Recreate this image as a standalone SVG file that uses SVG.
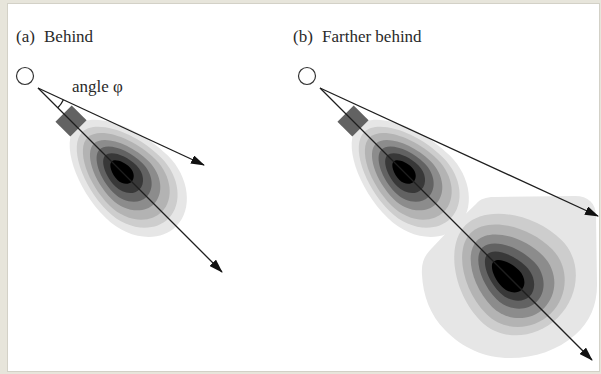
<svg xmlns="http://www.w3.org/2000/svg" xmlns:xlink="http://www.w3.org/1999/xlink" width="601" height="374" viewBox="0 0 601 374">
<style>
.lbl{font-family:"Liberation Serif","DejaVu Serif",serif;font-size:17px;fill:#2a2a2a}
.ln{stroke:#1e1e1e;stroke-width:1.3;fill:none}
.src{fill:#fff;stroke:#333;stroke-width:1.2}
.sq{fill:#626262}
.c0{fill:#e6e6e6}.c1{fill:#cdcdcd}.c2{fill:#b3b3b3}.c3{fill:#8c8c8c}.c4{fill:#626262}.c5{fill:#383838}.c6{fill:#000}
</style>
<defs>
<path id="tear" d="M-68,0 C-68,-22 -25,-44 18,-44 C48.8,-44 74,-24 74,0 C74,24 48.8,44 18,44 C-25,44 -68,22 -68,0 Z"/>
<marker id="ah" viewBox="0 0 14 9" refX="13" refY="4.5" markerWidth="14" markerHeight="9" markerUnits="userSpaceOnUse" orient="auto"><path d="M0,0 L14,4.5 L0,9 Z" fill="#111"/></marker>
</defs>
<rect width="601" height="374" fill="#e7e5db"/>
<rect x="7.5" y="3.5" width="592" height="368" fill="#fff" stroke="#d3d1c7" stroke-width="1"/>

<g id="blob-a">
<use xlink:href="#tear" class="c0" transform="translate(124,174) rotate(45) translate(-5,0) scale(1) translate(5,0)"/>
<use xlink:href="#tear" class="c1" transform="translate(124,174) rotate(45) translate(-5,0) scale(0.86) translate(5,0)"/>
<use xlink:href="#tear" class="c2" transform="translate(124,174) rotate(45) translate(-5,0) scale(0.74) translate(5,0)"/>
<use xlink:href="#tear" class="c3" transform="translate(124,174) rotate(45) translate(-5,0) scale(0.6) translate(5,0)"/>
<use xlink:href="#tear" class="c4" transform="translate(124,174) rotate(45) translate(-5,0) scale(0.47) translate(5,0)"/>
<use xlink:href="#tear" class="c5" transform="translate(124,174) rotate(45) translate(-5,0) scale(0.34) translate(5,0)"/>
<use xlink:href="#tear" class="c6" transform="translate(124,174) rotate(45) translate(-5,0) scale(0.2) translate(5,0)"/>
</g>

<g id="blob-b2">
<path class="c0" d="M450,229 L476,204 C480,199 486,197 494,197 L575,196 C588,196 596,203 596,216 L597,285 C597,305 590,322 575,335 C558,350 535,358 510,358 C485,358 462,348 445,330 C430,315 423,295 422,275 C421,262 425,255 432,248 Z"/>
<use xlink:href="#tear" class="c1" transform="translate(507,275) rotate(45) translate(-2,-6) scale(0.92,1.3)"/>
<use xlink:href="#tear" class="c2" transform="translate(507,275) rotate(45) translate(-1,-4) scale(0.8,1.05)"/>
<use xlink:href="#tear" class="c3" transform="translate(507,275) rotate(45) translate(0,-3) scale(0.67,0.82)"/>
<use xlink:href="#tear" class="c4" transform="translate(507,275) rotate(45) translate(0,-2) scale(0.54,0.6)"/>
<use xlink:href="#tear" class="c5" transform="translate(507,275) rotate(45) translate(0,-1) scale(0.42,0.42)"/>
<use xlink:href="#tear" class="c6" transform="translate(507,275) rotate(45) scale(0.28,0.27)"/>
</g>

<g id="blob-b1">
<use xlink:href="#tear" class="c0" transform="translate(406,174) rotate(45) translate(-5,0) scale(1) translate(5,0)"/>
<use xlink:href="#tear" class="c1" transform="translate(406,174) rotate(45) translate(-5,0) scale(0.86) translate(5,0)"/>
<use xlink:href="#tear" class="c2" transform="translate(406,174) rotate(45) translate(-5,0) scale(0.74) translate(5,0)"/>
<use xlink:href="#tear" class="c3" transform="translate(406,174) rotate(45) translate(-5,0) scale(0.6) translate(5,0)"/>
<use xlink:href="#tear" class="c4" transform="translate(406,174) rotate(45) translate(-5,0) scale(0.47) translate(5,0)"/>
<use xlink:href="#tear" class="c5" transform="translate(406,174) rotate(45) translate(-5,0) scale(0.34) translate(5,0)"/>
<use xlink:href="#tear" class="c6" transform="translate(406,174) rotate(45) translate(-5,0) scale(0.2) translate(5,0)"/>
</g>

<g id="sensor-a"><rect class="sq" x="-10.5" y="-11.5" width="21" height="23" transform="translate(71,121) rotate(45)"/></g>
<g id="sensor-b"><rect class="sq" x="-10.5" y="-11.5" width="21" height="23" transform="translate(353,121) rotate(45)"/></g>

<g id="connectors">
<line class="ln" x1="38" y1="88" x2="204" y2="165" marker-end="url(#ah)"/>
<line class="ln" x1="38" y1="88" x2="222" y2="272" marker-end="url(#ah)"/>
<path class="ln" d="M57.8,107.8 A28,28 0 0 0 63.4,99.8" stroke-width="1"/>
<line class="ln" x1="320" y1="88" x2="598" y2="216" marker-end="url(#ah)"/>
<line class="ln" x1="320" y1="88" x2="592" y2="360" marker-end="url(#ah)"/>
</g>

<g id="source-a"><circle class="src" cx="25" cy="76" r="8.5"/></g>
<g id="source-b"><circle class="src" cx="307" cy="76" r="8.5"/></g>

<g id="labels">
<text class="lbl" x="16" y="42">(a)</text>
<text class="lbl" x="44" y="42">Behind</text>
<text class="lbl" x="72" y="92">angle φ</text>
<text class="lbl" x="293" y="42">(b)</text>
<text class="lbl" x="322" y="42">Farther behind</text>
</g>
</svg>
